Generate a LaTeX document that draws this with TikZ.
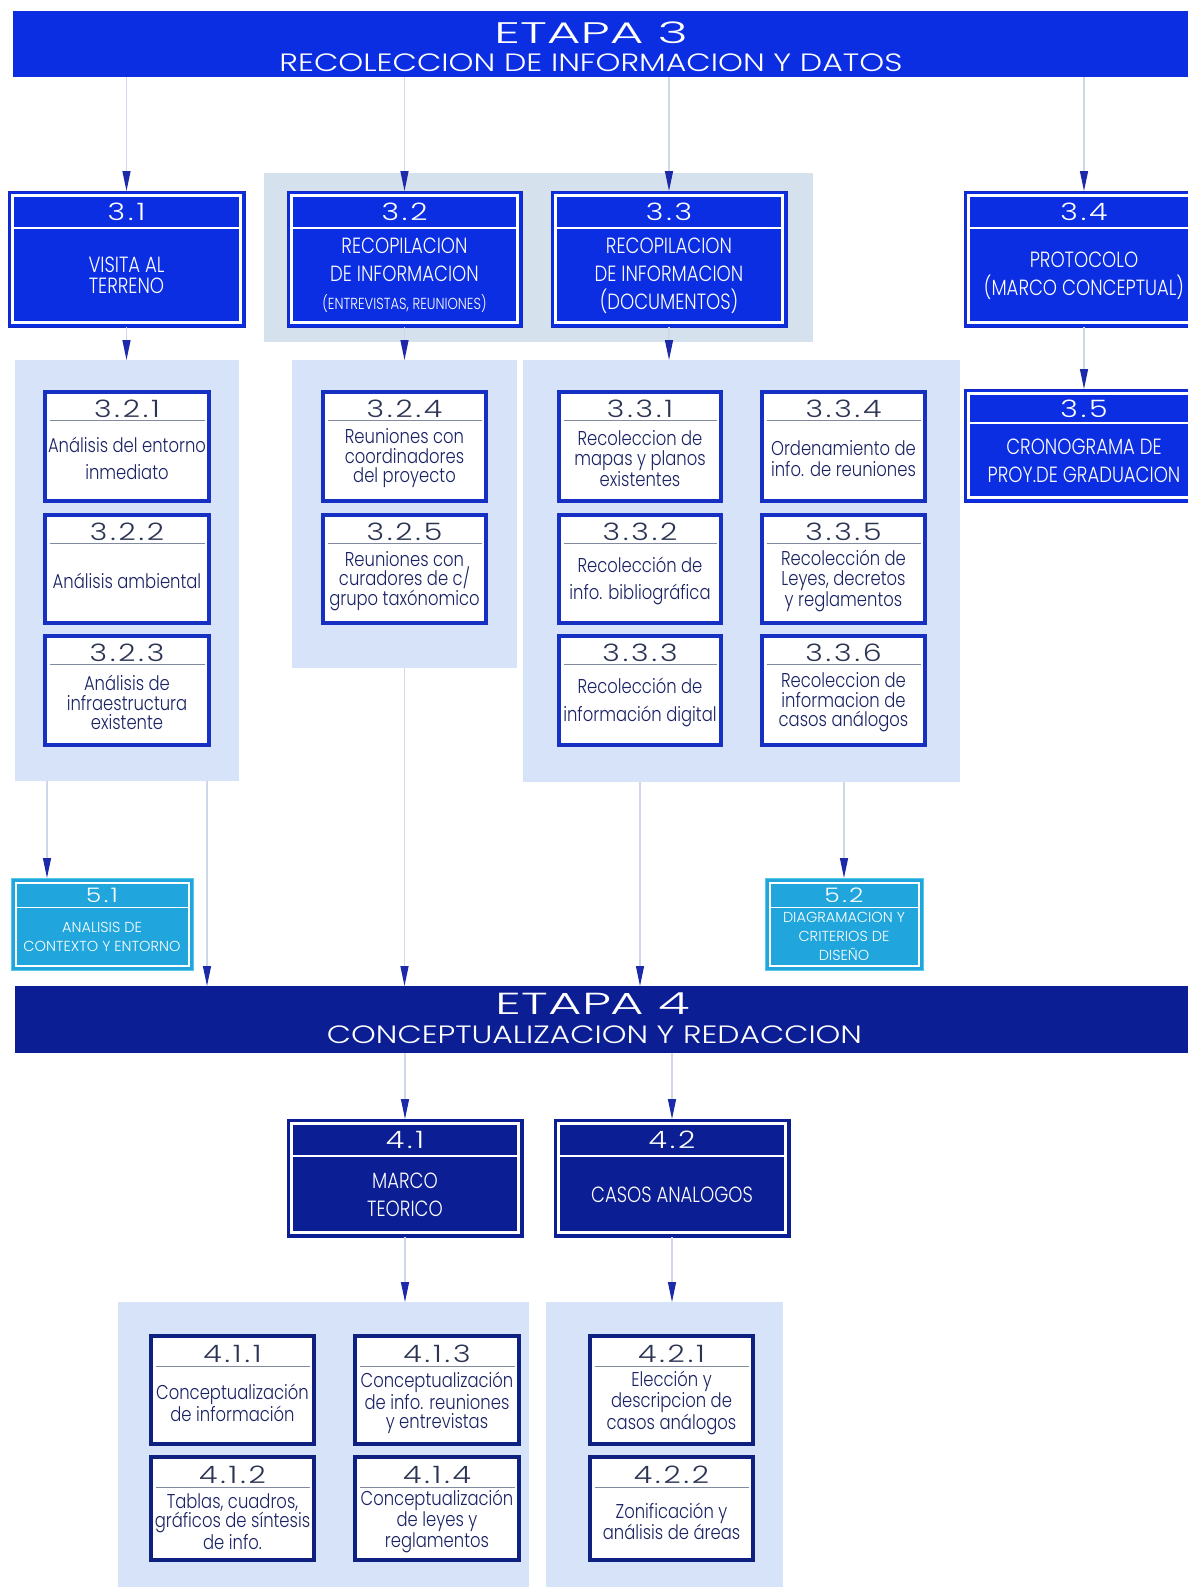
\documentclass[tikz,border=0pt]{standalone}
\usepackage{fontspec}
\usepackage{graphicx}
\usetikzlibrary{arrows.meta,calc}

\IfFontExistsTF{Poppins Light}{%
  \newfontfamily\hdfont[FakeStretch=1.25,LetterSpace=12]{Poppins Light}%
  \newfontfamily\ttlfont{Poppins Light}%
  \newfontfamily\bdfont[FakeStretch=0.82]{Poppins Light}%
}{%
  \newfontfamily\hdfont[FakeStretch=1.25,LetterSpace=12]{Poppins}%
  \newfontfamily\ttlfont{Poppins}%
  \newfontfamily\bdfont[FakeStretch=0.82]{Poppins}%
}
\newcommand\numfont{\hdfont\fontsize{24}{24}\selectfont}

\definecolor{blueA}{RGB}{12,46,226}
\definecolor{blueAd}{RGB}{20,40,190}
\definecolor{navyA}{RGB}{12,30,148}
\definecolor{cyanA}{RGB}{32,166,220}
\definecolor{cyanAl}{RGB}{90,200,235}
\definecolor{panelA}{RGB}{214,227,248}
\definecolor{panelG}{RGB}{213,225,237}
\definecolor{lineA}{RGB}{206,216,233}
\definecolor{tipA}{RGB}{28,42,170}
\definecolor{sbBord}{RGB}{22,48,196}
\definecolor{sbBordN}{RGB}{14,32,128}
\definecolor{sbText}{RGB}{26,34,100}
\definecolor{sbNum}{RGB}{44,52,84}
\definecolor{sbSep}{RGB}{130,138,160}

\tikzset{
  every node/.style={inner sep=0pt, outer sep=0pt},
  panel/.style={fill=panelA},
  gpanel/.style={fill=panelG},
  banner/.style={fill=blueA},
  bannerN/.style={fill=navyA},
  conn/.style={draw=lineA, line width=1.3pt, -{Triangle[width=8pt,length=20pt,color=tipA]}},
  bb/.style={fill=blueA, draw=blueAd, line width=1pt},
  bb frame/.style={draw=white, line width=2.5pt},
  bb sep/.style={draw=white, line width=1.5pt},
  bb num/.style={text=white, font=\numfont},
  bb txt/.style={text=white, align=center, font=\bdfont\fontsize{22}{28}\selectfont},
  nb/.style={fill=navyA, draw=navyA, line width=1pt},
  nb frame/.style={bb frame},
  nb sep/.style={bb sep},
  nb num/.style={bb num},
  nb txt/.style={bb txt},
  cb/.style={fill=cyanA, draw=cyanAl, line width=1pt},
  cb frame/.style={draw=white, line width=2pt},
  cb sep/.style={draw=white, line width=1pt},
  cb num/.style={text=white, font=\hdfont\fontsize{20}{20}\selectfont},
  cb txt/.style={text=white, align=center, font=\ttlfont\fontsize{14.5}{19}\selectfont},
  sb/.style={fill=white, draw=sbBord, line width=3.5pt},
  sb frame/.style={draw=none},
  sb sep/.style={draw=sbSep, line width=1pt},
  sb num/.style={text=sbNum, font=\numfont},
  sb txt/.style={text=sbText, align=center, font=\bdfont\fontsize{20}{19.5}\selectfont},
  sn/.style={sb, draw=sbBordN},
  sn frame/.style={sb frame},
  sn sep/.style={sb sep},
  sn num/.style={sb num},
  sn txt/.style={sb txt},
}

% plain rectangle from (x1,y1) to (x2,y2), y measured downwards
\newcommand\area[6]{%
  \node[#1, anchor=north west, minimum width={#5-#3}, minimum height={#6-#4}] (#2) at (#3,#4) {};}

% framed box with a number header and a body text
\newcommand\tbox[9]{%
  \area{#1}{#2}{#3}{#4}{#5}{#6}
  \draw[#1 frame] ([shift={(4.5,4.5)}]#2.north west) rectangle ([shift={(-4.5,-4.5)}]#2.south east);
  \draw[#1 sep] ([shift={(4.5,#7)}]#2.north west) -- ([shift={(-4.5,#7)}]#2.north east);
  \node[#1 num] at ([shift={(0,#7/2+2.5)}]#2.north) {#8};
  \node[#1 txt] at ([shift={(0,#7/2-2)}]#2.center) {#9};
}

\begin{document}
\begin{tikzpicture}[x=1pt,y=-1pt]
\useasboundingbox (0,0) rectangle (1188,1587);
\clip (0,0) rectangle (1188,1587);

% stage banners
\area{banner}{b3}{13}{11}{1188}{77}
\area{bannerN}{b4}{15}{986}{1188}{1053}
\node[text=white] (t3a) at (591,32.5) {\resizebox{194pt}{21.7pt}{\ttlfont ETAPA 3}};
\node[text=white] (t3b) at (591,63) {\resizebox{623pt}{17.7pt}{\ttlfont RECOLECCION DE INFORMACION Y DATOS}};
\node[text=white] (t4a) at (593,1004) {\resizebox{194pt}{21.7pt}{\ttlfont ETAPA 4}};
\node[text=white] (t4b) at (594.5,1035) {\resizebox{535pt}{17.7pt}{\ttlfont CONCEPTUALIZACION Y REDACCION}};

% background panels
\area{gpanel}{gp}{264}{173}{813}{342}
\area{panel}{p1}{15}{360}{239}{781}
\area{panel}{p2}{292}{360}{517}{668}
\area{panel}{p3}{523}{360}{960}{782}
\area{panel}{q1}{118}{1302}{529}{1600}
\area{panel}{q2}{546}{1302}{783}{1600}

% x positions of connectors that do not run through a box centre
\coordinate (xa) at (47,0);
\coordinate (xb) at (207,0);
\coordinate (xc) at (640,0);

% main boxes
\tbox{bb}{n31}{8}{191}{245}{327}{37}{3.1}{VISITA AL\\[-7pt]TERRENO}
\tbox{bb}{n32}{287}{191}{522}{327}{37}{3.2}{RECOPILACION\\DE INFORMACION\\\fontsize{16}{20}\selectfont(ENTREVISTAS, REUNIONES)}
\tbox{bb}{n33}{551}{191}{787}{327}{37}{3.3}{RECOPILACION\\DE INFORMACION\\(DOCUMENTOS)}
\tbox{bb}{n34}{964}{191}{1204}{327}{37}{3.4}{PROTOCOLO\\(MARCO CONCEPTUAL)}
\tbox{bb}{n35}{964}{389}{1204}{502}{34}{3.5}{CRONOGRAMA DE\\PROY.DE GRADUACION}
\tbox{cb}{n51}{11}{878}{193}{970}{29}{5.1}{ANALISIS DE\\CONTEXTO Y ENTORNO}
\tbox{cb}{n52}{765}{878}{923}{970}{29}{5.2}{DIAGRAMACION Y\\CRITERIOS DE\\DISEÑO}
\tbox{nb}{n41}{287}{1119}{523}{1237}{37}{4.1}{MARCO\\TEORICO}
\tbox{nb}{n42}{554}{1119}{790}{1237}{37}{4.2}{CASOS ANALOGOS}

% sub-tasks of stage 3
\tbox{sb}{s321}{45}{392}{209}{501}{28}{3.2.1}{Análisis del entorno\\[8pt]inmediato}
\tbox{sb}{s322}{45}{515}{209}{623}{28}{3.2.2}{Análisis ambiental}
\tbox{sb}{s323}{45}{636}{209}{745}{28}{3.2.3}{Análisis de\\infraestructura\\existente}
\tbox{sb}{s324}{323}{392}{486}{501}{28}{3.2.4}{Reuniones con\\coordinadores\\del proyecto}
\tbox{sb}{s325}{323}{515}{486}{623}{28}{3.2.5}{Reuniones con\\curadores de c/\\grupo taxónomico}
\tbox{sb}{s331}{559}{392}{721}{501}{28}{3.3.1}{Recoleccion de\\mapas y planos\\existentes}
\tbox{sb}{s332}{559}{515}{721}{623}{28}{3.3.2}{Recolección de\\[8pt]info. bibliográfica}
\tbox{sb}{s333}{559}{636}{721}{745}{28}{3.3.3}{Recolección de\\[8pt]información digital}
\tbox{sb}{s334}{762}{392}{925}{501}{28}{3.3.4}{Ordenamiento de\\[2pt]info. de reuniones}
\tbox{sb}{s335}{762}{515}{925}{623}{28}{3.3.5}{Recolección de\\Leyes, decretos\\y reglamentos}
\tbox{sb}{s336}{762}{636}{925}{745}{28}{3.3.6}{Recoleccion de\\informacion de\\casos análogos}

% sub-tasks of stage 4
\tbox{sn}{s411}{151}{1336}{314}{1444}{30}{4.1.1}{Conceptualización\\de información}
\tbox{sn}{s412}{151}{1457}{314}{1560}{30}{4.1.2}{Tablas, cuadros,\\gráficos de síntesis\\de info.}
\tbox{sn}{s413}{355}{1336}{519}{1444}{30}{4.1.3}{Conceptualización\\de info. reuniones\\y entrevistas}
\tbox{sn}{s414}{355}{1457}{519}{1560}{30}{4.1.4}{Conceptualización\\de leyes y\\reglamentos}
\tbox{sn}{s421}{590}{1336}{753}{1444}{30}{4.2.1}{Elección y\\descripcion de\\casos análogos}
\tbox{sn}{s422}{590}{1457}{753}{1560}{30}{4.2.2}{Zonificación y\\análisis de áreas}

% connectors
\draw[conn] (b3.south -| n31.north) -- (n31.north);
\draw[conn] (b3.south -| n32.north) -- (n32.north);
\draw[conn] (b3.south -| n33.north) -- (n33.north);
\draw[conn] (b3.south -| n34.north) -- (n34.north);
\draw[conn] (n31.south) -- (n31.south |- p1.north);
\draw[conn] (n32.south) -- (n32.south |- p2.north);
\draw[conn] (n33.south) -- (n33.south |- p3.north);
\draw[conn] (n34.south) -- (n35.north);
\draw[conn] (p1.south -| xa) -- (n51.north -| xa);
\draw[conn] (p1.south -| xb) -- (b4.north -| xb);
\draw[conn] (p2.south) -- (p2.south |- b4.north);
\draw[conn] (p3.south -| xc) -- (b4.north -| xc);
\draw[conn] (p3.south -| n52.north) -- (n52.north);
\draw[conn] (b4.south -| n41.north) -- (n41.north);
\draw[conn] (b4.south -| n42.north) -- (n42.north);
\draw[conn] (n41.south) -- (n41.south |- q1.north);
\draw[conn] (n42.south) -- (n42.south |- q2.north);
\end{tikzpicture}
\end{document}
